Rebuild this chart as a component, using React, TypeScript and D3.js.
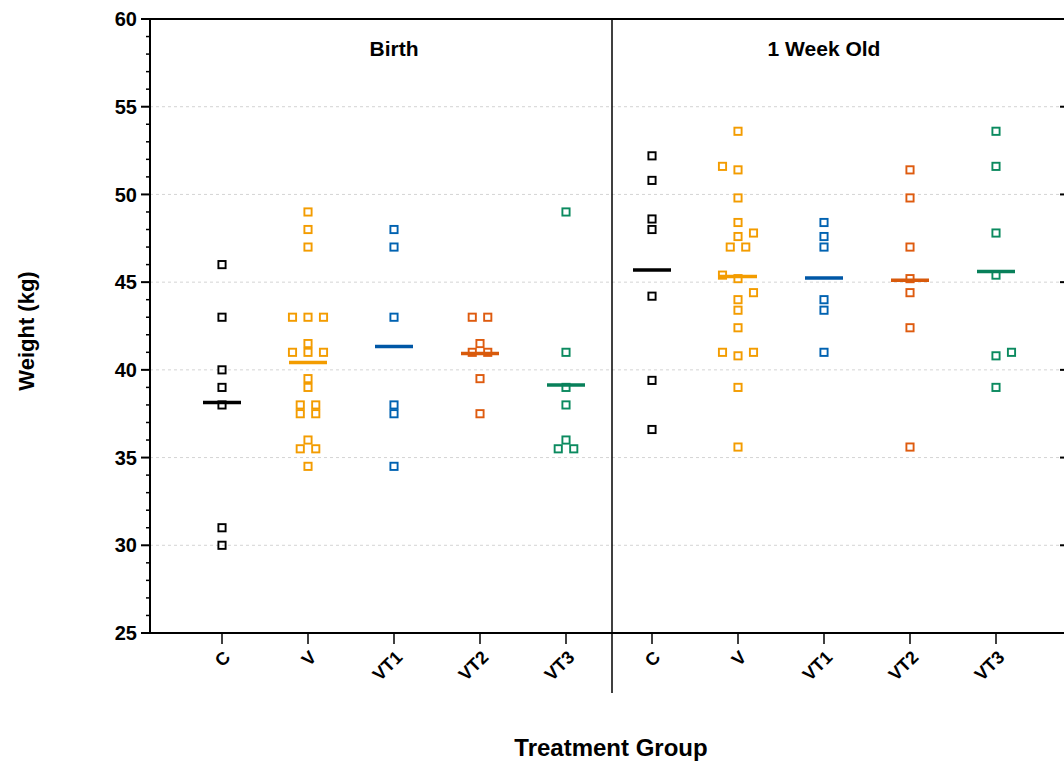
import * as d3 from "d3";

// Treatment groups and panels
const groups = ["C", "V", "VT1", "VT2", "VT3"];
const panelTitles = ["Birth", "1 Week Old"];
const groupColors = ["#000000", "#F39C00", "#0062B1", "#DE5B0F", "#0B8A5F"];
const meanColors = ["#000000", "#F39C00", "#0057A6", "#D85A0C", "#08805A"];

// Weight (kg) at birth
const birthC = [46, 43, 40, 39, 38, 31, 30];
const birthV = [49, 48, 47, 43, 43, 43, 41.5, 41, 41, 41, 39.5, 39, 38, 38, 37.5, 37.5, 36, 35.5, 35.5, 34.5];
const birthVT1 = [48, 47, 43, 38, 37.5, 34.5];
const birthVT2 = [43, 43, 41.5, 41, 41, 39.5, 37.5];
const birthVT3 = [49, 41, 39, 38, 36, 35.5, 35.5];

// Weight (kg) at 1 week old
const weekC = [52.2, 50.8, 48.6, 48, 44.2, 39.4, 36.6];
const weekV = [53.6, 51.6, 51.4, 49.8, 48.4, 47.8, 47.6, 47, 47, 45.4, 45.2, 44.4, 44, 43.4, 42.4, 41, 41, 40.8, 39, 35.6];
const weekVT1 = [48.4, 47.6, 47, 44, 43.4, 41];
const weekVT2 = [51.4, 49.8, 47, 45.2, 44.4, 42.4, 35.6];
const weekVT3 = [53.6, 51.6, 47.8, 45.4, 41, 40.8, 39];

const yTicks = [25, 30, 35, 40, 45, 50, 55, 60];
const yMinor = d3.range(25, 61, 1);

const panelData = [
  [birthC, birthV, birthVT1, birthVT2, birthVT3],
  [weekC, weekV, weekVT1, weekVT2, weekVT3],
];

const W = 1064;
const H = 762;
const top = 19;
const bottom = 633;
const axisLeft = 150;
const axisRight = 1068;
const divider = 612;
const catStep = 86;
const panelFirst = [222, 652];
const font = "'Liberation Sans', Arial, sans-serif";

const y = d3.scaleLinear().domain([25, 60]).range([bottom, top]);

const markerSize = 8;
const swarmStep = 15.5;

interface Placed {
  v: number;
  py: number;
  dx: number;
}

// Prism-like column scatter: equal values spread in rows, near-collisions pushed aside
function swarm(values: number[]): Placed[] {
  const sorted = [...values].sort((a, b) => a - b);
  const placed: Placed[] = [];
  let dir = 1;
  const collides = (py: number, dx: number) =>
    placed.some((p) => Math.abs(p.py - py) < markerSize && Math.abs(p.dx - dx) < markerSize);
  let k = 0;
  while (k < sorted.length) {
    let j = k;
    while (j < sorted.length && sorted[j] === sorted[k]) j++;
    const n = j - k;
    const v = sorted[k];
    const py = y(v);
    const centered = d3.range(n).map((i) => (i - (n - 1) / 2) * swarmStep);
    if (!centered.some((dx) => collides(py, dx))) {
      centered.forEach((dx) => placed.push({ v, py, dx }));
    } else {
      for (let i = 0; i < n; i++) {
        const cands = [0, dir * swarmStep, -dir * swarmStep, 2 * dir * swarmStep, -2 * dir * swarmStep];
        const dx = cands.find((c) => !collides(py, c)) ?? 0;
        placed.push({ v, py, dx });
        if (dx !== 0) dir = dx > 0 ? -1 : 1;
      }
    }
    k = j;
  }
  return placed;
}

export default function App() {
  const xScales = panelFirst.map((f) =>
    d3.scalePoint<string>().domain(groups).range([f, f + catStep * (groups.length - 1)])
  );

  return (
    <svg
      width={W}
      height={H}
      style={{ position: "absolute", left: 0, top: 0, background: "#fff" }}
      fontFamily={font}
    >
      {/* grid */}
      {yTicks
        .filter((t) => t !== 25 && t !== 60)
        .map((t) => (
          <line
            key={"g" + t}
            x1={axisLeft}
            x2={axisRight - 6}
            y1={y(t)}
            y2={y(t)}
            stroke="#d4d4d4"
            strokeWidth={1}
            strokeDasharray="3,3"
          />
        ))}

      {/* points and means */}
      {panelData.map((pd, pi) =>
        pd.map((vals, gi) => {
          const cx = xScales[pi](groups[gi])!;
          const pts = swarm(vals);
          const m = d3.mean(vals)!;
          return (
            <g key={`p${pi}-${gi}`}>
              {pts.map((p, i) => (
                <rect
                  key={i}
                  x={cx + p.dx - 3.6}
                  y={p.py - 3.6}
                  width={7.2}
                  height={7.2}
                  fill="none"
                  stroke={groupColors[gi]}
                  strokeWidth={1.9}
                />
              ))}
              <line
                x1={cx - 19}
                x2={cx + 19}
                y1={y(m)}
                y2={y(m)}
                stroke={meanColors[gi]}
                strokeWidth={3.5}
              />
            </g>
          );
        })
      )}

      {/* frame */}
      <line x1={axisLeft} x2={axisRight} y1={top} y2={top} stroke="#000" strokeWidth={2} />
      <line x1={axisLeft - 9} x2={axisRight} y1={bottom} y2={bottom} stroke="#000" strokeWidth={2} />
      <line x1={axisLeft} x2={axisLeft} y1={top} y2={bottom} stroke="#000" strokeWidth={2} />
      <line x1={divider} x2={divider} y1={top} y2={693} stroke="#000" strokeWidth={1.5} />

      {/* left axis ticks */}
      {yMinor.map((t) => (
        <line
          key={"m" + t}
          x1={axisLeft - (t % 5 === 0 ? 9 : 4)}
          x2={axisLeft}
          y1={y(t)}
          y2={y(t)}
          stroke="#000"
          strokeWidth={t % 5 === 0 ? 2 : 1.5}
        />
      ))}
      {yTicks.map((t) => (
        <text
          key={"l" + t}
          x={axisLeft - 13}
          y={y(t)}
          dy="0.36em"
          textAnchor="end"
          fontSize={20}
          fontWeight="bold"
        >
          {t}
        </text>
      ))}

      {/* right axis ticks (clipped at the edge) */}
      {yMinor.map((t) => (
        <line
          key={"r" + t}
          x1={axisRight - (t % 5 === 0 ? 8 : 4)}
          x2={axisRight}
          y1={y(t)}
          y2={y(t)}
          stroke={t % 5 === 0 ? "#000" : "#bbb"}
          strokeWidth={t % 5 === 0 ? 2 : 1}
        />
      ))}

      {/* x ticks and labels */}
      {xScales.map((xs, pi) =>
        groups.map((g) => {
          const gx = xs(g)!;
          return (
            <g key={`x${pi}-${g}`}>
              <line x1={gx} x2={gx} y1={bottom} y2={bottom + 11} stroke="#000" strokeWidth={1.5} />
              <text
                transform={`translate(${gx + 5},${bottom + 21}) rotate(-45)`}
                textAnchor="end"
                dy="0.35em"
                fontSize={18}
                fontWeight="bold"
              >
                {g}
              </text>
            </g>
          );
        })
      )}

      {/* panel titles */}
      {xScales.map((xs, pi) => (
        <text
          key={"t" + pi}
          x={xs("VT1")!}
          y={56}
          textAnchor="middle"
          fontSize={21}
          fontWeight="bold"
        >
          {panelTitles[pi]}
        </text>
      ))}

      {/* axis titles */}
      <text
        transform={`translate(34,${(top + bottom) / 2 + 5}) rotate(-90)`}
        textAnchor="middle"
        fontSize={22}
        fontWeight="bold"
      >
        Weight (kg)
      </text>
      <text x={611} y={756} textAnchor="middle" fontSize={24} fontWeight="bold">
        Treatment Group
      </text>
    </svg>
  );
}
